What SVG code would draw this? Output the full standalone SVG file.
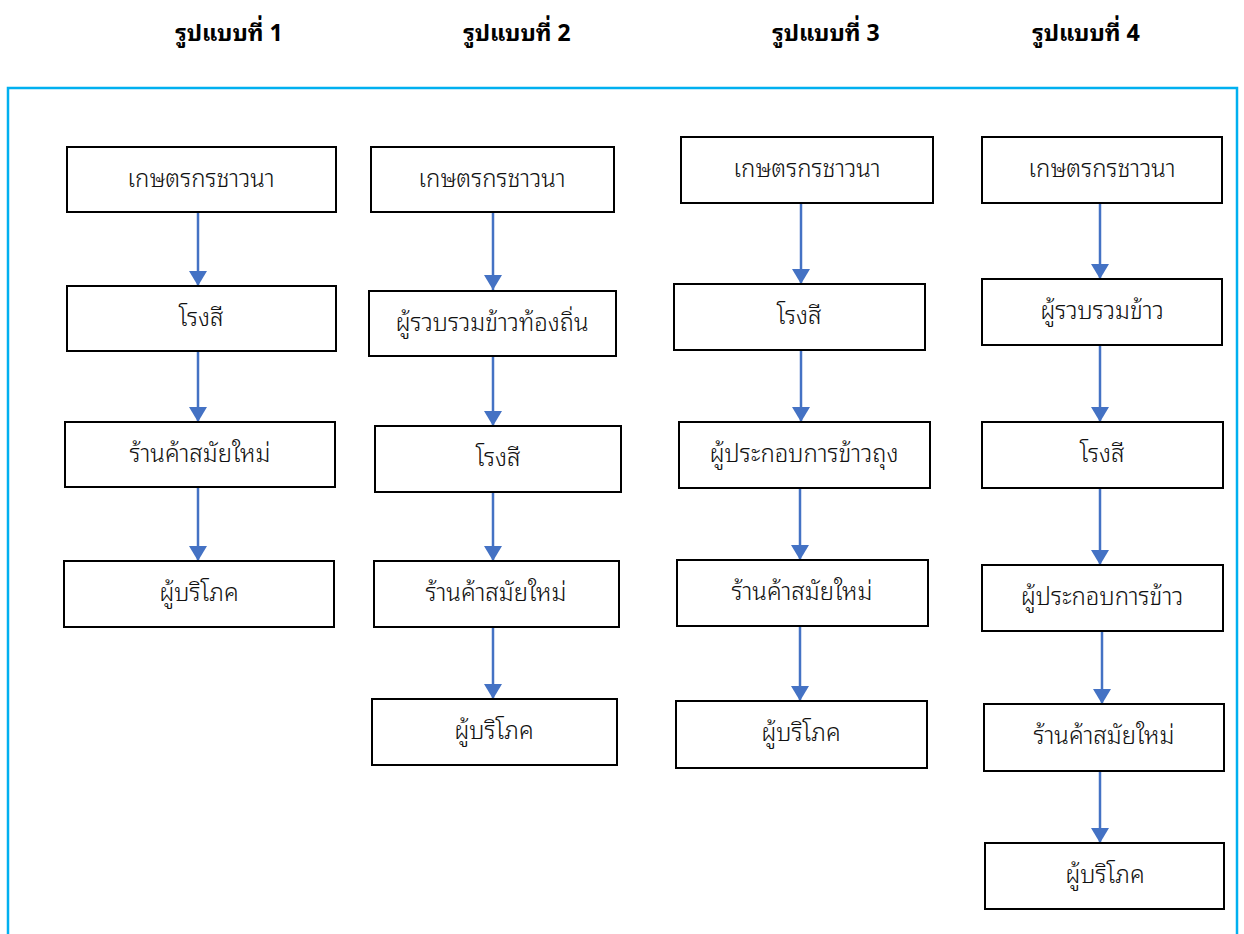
<svg xmlns="http://www.w3.org/2000/svg" width="1244" height="934" viewBox="0 0 1244 934">
<style>
.hd{font-family:"Noto Sans Thai Looped","Noto Sans Thai","Noto Sans","Liberation Sans",sans-serif;font-size:23px;font-weight:bold;fill:#000;text-anchor:middle}
.box rect{fill:#fff;stroke:#000;stroke-width:2}
.box text{font-family:"Noto Sans Thai Looped","Noto Sans Thai","Noto Sans","Liberation Sans",sans-serif;font-size:24px;font-weight:300;fill:#111;text-anchor:middle;dominant-baseline:central}
.conn line{stroke:#4472C4;stroke-width:2.5;marker-end:url(#ah)}
</style>
<defs>
<marker id="ah" markerUnits="userSpaceOnUse" markerWidth="16" markerHeight="18" viewBox="0 0 16 18" refX="15" refY="9" orient="auto">
<path d="M0,0 L15,9 L0,18 Z" fill="#4472C4"/>
</marker>
</defs>
<rect x="8" y="88" width="1229" height="860" fill="none" stroke="#00B0F0" stroke-width="2.5"/>
<g id="headers">
<text class="hd" x="229" y="41">รูปแบบที่ 1</text>
<text class="hd" x="517" y="41">รูปแบบที่ 2</text>
<text class="hd" x="826" y="41">รูปแบบที่ 3</text>
<text class="hd" x="1086" y="41">รูปแบบที่ 4</text>
</g>
<g id="connectors" class="conn">
<line x1="198" y1="212" x2="198" y2="286"/>
<line x1="198" y1="351" x2="198" y2="422"/>
<line x1="198" y1="487" x2="198" y2="561"/>
<line x1="493" y1="212" x2="493" y2="290"/>
<line x1="493" y1="356" x2="493" y2="426"/>
<line x1="493" y1="492" x2="493" y2="561"/>
<line x1="493" y1="627" x2="493" y2="699"/>
<line x1="801" y1="203" x2="801" y2="284"/>
<line x1="801" y1="350" x2="801" y2="422"/>
<line x1="800" y1="488" x2="800" y2="560"/>
<line x1="800" y1="626" x2="800" y2="701"/>
<line x1="1100" y1="203" x2="1100" y2="279"/>
<line x1="1100" y1="345" x2="1100" y2="422"/>
<line x1="1100" y1="488" x2="1100" y2="565"/>
<line x1="1102" y1="631" x2="1102" y2="704"/>
<line x1="1100" y1="771" x2="1100" y2="843"/>
</g>
<g id="c1n1" class="box"><rect x="67" y="147" width="269" height="65"/><text x="201" y="176">เกษตรกรชาวนา</text></g>
<g id="c1n2" class="box"><rect x="67" y="286" width="269" height="65"/><text x="201" y="315">โรงสี</text></g>
<g id="c1n3" class="box"><rect x="65" y="422" width="270" height="65"/><text x="200" y="451">ร้านค้าสมัยใหม่</text></g>
<g id="c1n4" class="box"><rect x="64" y="561" width="270" height="66"/><text x="199" y="590">ผู้บริโภค</text></g>
<g id="c2n1" class="box"><rect x="371" y="147" width="243" height="65"/><text x="492" y="176">เกษตรกรชาวนา</text></g>
<g id="c2n2" class="box"><rect x="369" y="291" width="247" height="65"/><text x="492" y="320">ผู้รวบรวมข้าวท้องถิ่น</text></g>
<g id="c2n3" class="box"><rect x="375" y="426" width="246" height="66"/><text x="498" y="455">โรงสี</text></g>
<g id="c2n4" class="box"><rect x="374" y="561" width="245" height="66"/><text x="496" y="590">ร้านค้าสมัยใหม่</text></g>
<g id="c2n5" class="box"><rect x="372" y="699" width="245" height="66"/><text x="494" y="728">ผู้บริโภค</text></g>
<g id="c3n1" class="box"><rect x="681" y="137" width="252" height="66"/><text x="807" y="166">เกษตรกรชาวนา</text></g>
<g id="c3n2" class="box"><rect x="674" y="284" width="251" height="66"/><text x="799" y="313">โรงสี</text></g>
<g id="c3n3" class="box"><rect x="679" y="422" width="251" height="66"/><text x="804" y="451">ผู้ประกอบการข้าวถุง</text></g>
<g id="c3n4" class="box"><rect x="677" y="560" width="251" height="66"/><text x="802" y="589">ร้านค้าสมัยใหม่</text></g>
<g id="c3n5" class="box"><rect x="676" y="701" width="251" height="67"/><text x="801" y="730">ผู้บริโภค</text></g>
<g id="c4n1" class="box"><rect x="982" y="137" width="240" height="66"/><text x="1102" y="166">เกษตรกรชาวนา</text></g>
<g id="c4n2" class="box"><rect x="982" y="279" width="240" height="66"/><text x="1102" y="308">ผู้รวบรวมข้าว</text></g>
<g id="c4n3" class="box"><rect x="982" y="422" width="241" height="66"/><text x="1102" y="451">โรงสี</text></g>
<g id="c4n4" class="box"><rect x="982" y="565" width="241" height="66"/><text x="1102" y="594">ผู้ประกอบการข้าว</text></g>
<g id="c4n5" class="box"><rect x="984" y="704" width="240" height="67"/><text x="1104" y="733">ร้านค้าสมัยใหม่</text></g>
<g id="c4n6" class="box"><rect x="985" y="843" width="239" height="66"/><text x="1105" y="872">ผู้บริโภค</text></g>
</svg>
